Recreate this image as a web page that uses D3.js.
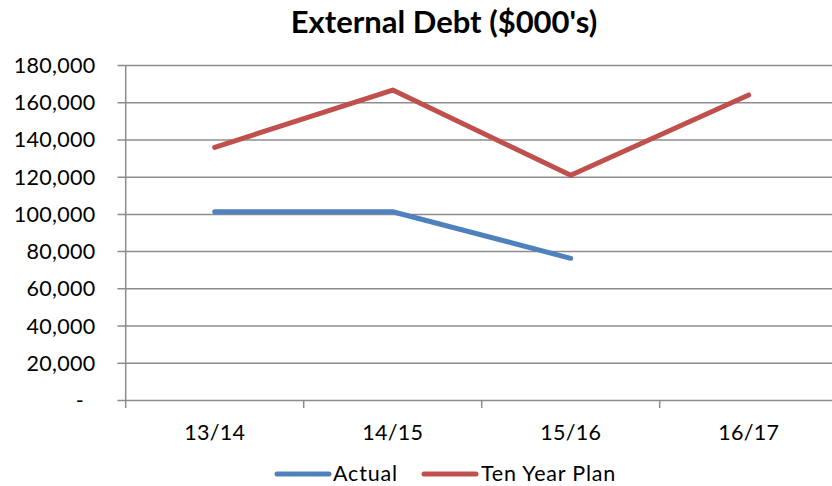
<!DOCTYPE html>
<html>
<head>
<meta charset="utf-8">
<script src="https://cdn.jsdelivr.net/npm/d3@7"></script>
<style>
  html, body { margin: 0; padding: 0; background: #fff; }
  svg { display: block; font-family: Lato, "Open Sans", sans-serif; }
</style>
</head>
<body>
<svg id="chart" width="832" height="486"></svg>
<script>
// Fiscal years and external debt figures ($000's)
const categories = ["13/14", "14/15", "15/16", "16/17"];
const actual = [101400, 101400, 76400, null];
const tenYearPlan = [136000, 166800, 121000, 164200];
const yTicks = [0, 20000, 40000, 60000, 80000, 100000, 120000, 140000, 160000, 180000];

const seriesList = [
  { name: "Actual", values: actual, color: "#4F81BD" },
  { name: "Ten Year Plan", values: tenYearPlan, color: "#C0504D" }
];

const svg = d3.select("#chart");
const gridColor = "#8c8c8c";
const left = 125.7, bandW = 178;

const x = d3.scaleBand()
  .domain(categories)
  .range([left, left + bandW * categories.length])
  .padding(0);

const y = d3.scaleLinear()
  .domain([0, 180000])
  .range([400.5, 65.5]);

// Title
svg.append("text")
  .attr("x", 444)
  .attr("y", 33)
  .attr("text-anchor", "middle")
  .attr("font-size", 31)
  .attr("font-weight", "bold")
  .attr("fill", "#000")
  .text("External Debt ($000's)");

// Horizontal gridlines (with left tick stubs)
svg.append("g")
  .selectAll("line")
  .data(yTicks)
  .join("line")
  .attr("x1", 117.5)
  .attr("x2", 832)
  .attr("y1", d => y(d))
  .attr("y2", d => y(d))
  .attr("stroke", gridColor)
  .attr("stroke-width", 1.5);

// Y axis line
svg.append("line")
  .attr("x1", left).attr("x2", left)
  .attr("y1", y(180000)).attr("y2", 408)
  .attr("stroke", gridColor)
  .attr("stroke-width", 1.5);

// X axis ticks at band boundaries
const boundaries = categories.map(c => x(c)).concat([x(categories[categories.length - 1]) + x.bandwidth()]);
svg.append("g")
  .selectAll("line")
  .data(boundaries.slice(1))
  .join("line")
  .attr("x1", d => d).attr("x2", d => d)
  .attr("y1", y(0)).attr("y2", 408)
  .attr("stroke", gridColor)
  .attr("stroke-width", 1.5);

// Y tick labels
const fmt = d3.format(",");
svg.append("g")
  .selectAll("text")
  .data(yTicks)
  .join("text")
  .attr("x", d => d === 0 ? 84 : 95.5)
  .attr("y", d => y(d))
  .attr("dy", "0.35em")
  .attr("text-anchor", "end")
  .attr("font-size", 21.5)
  .attr("letter-spacing", 0.3)
  .attr("fill", "#000")
  .text(d => d === 0 ? "-" : fmt(d));

// X category labels
svg.append("g")
  .selectAll("text")
  .data(categories)
  .join("text")
  .attr("x", d => x(d) + x.bandwidth() / 2)
  .attr("y", 440)
  .attr("text-anchor", "middle")
  .attr("font-size", 21.5)
  .attr("letter-spacing", 0.3)
  .attr("fill", "#000")
  .text(d => d);

// Series lines
const line = d3.line()
  .defined(d => d.v != null)
  .x(d => x(d.c) + x.bandwidth() / 2)
  .y(d => y(d.v));

svg.append("g")
  .selectAll("path")
  .data(seriesList)
  .join("path")
  .attr("d", s => line(categories.map((c, i) => ({ c, v: s.values[i] }))))
  .attr("fill", "none")
  .attr("stroke", s => s.color)
  .attr("stroke-width", 5)
  .attr("stroke-linejoin", "round")
  .attr("stroke-linecap", "round");

// Legend
const legendItems = [
  { s: seriesList[0], x1: 277, tx: 333 },
  { s: seriesList[1], x1: 424, tx: 481 }
];
const lg = svg.append("g");
legendItems.forEach(it => {
  lg.append("line")
    .attr("x1", it.x1).attr("x2", it.x1 + 52)
    .attr("y1", 474).attr("y2", 474)
    .attr("stroke", it.s.color)
    .attr("stroke-width", 5)
    .attr("stroke-linecap", "round");
  lg.append("text")
    .attr("x", it.tx)
    .attr("y", 481)
    .attr("font-size", 21.5)
    .attr("letter-spacing", 0.8)
    .attr("fill", "#000")
    .text(it.s.name);
});
</script>
</body>
</html>
